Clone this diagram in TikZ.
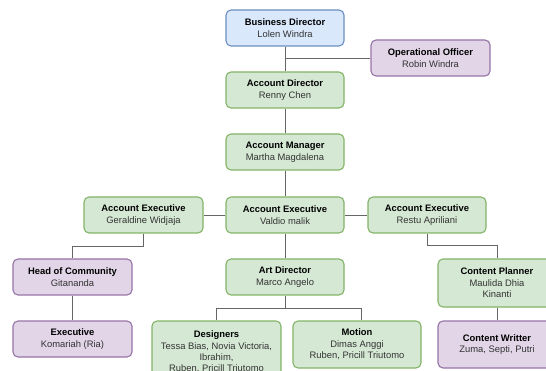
\documentclass[tikz,border=0pt]{standalone}
\usepackage{fontspec}
\setmainfont{Liberation Sans}
\definecolor{bfill}{HTML}{DAE8FC}
\definecolor{bline}{HTML}{6C8EBF}
\definecolor{gfill}{HTML}{D5E8D4}
\definecolor{gline}{HTML}{82B366}
\definecolor{pfill}{HTML}{E1D5E7}
\definecolor{pline}{HTML}{9673A6}
\definecolor{edge}{HTML}{666666}
\definecolor{nametext}{HTML}{333333}
\newcommand{\ttl}[1]{{\color{black}\bfseries #1}\\[0.8pt]}
\tikzset{
  box/.style={draw, line width=1.1pt, rounded corners=5pt, inner sep=0pt,
    align=center, text=nametext, font=\fontsize{9.4}{11}\selectfont,
    minimum width=118pt, minimum height=36pt},
  bbox/.style={box, fill=bfill, draw=bline},
  gbox/.style={box, fill=gfill, draw=gline},
  pbox/.style={box, fill=pfill, draw=pline},
  conn/.style={draw=edge, line width=0.9pt}
}
\begin{document}
\begin{tikzpicture}[x=1pt,y=-1pt]
\useasboundingbox (0,0) rectangle (546,371);
\node[bbox] (bd) at (285,28) {\ttl{Business Director}Lolen Windra};
\node[pbox, minimum width=119pt] (oo) at (430.5,58) {\ttl{Operational Officer}Robin Windra};
\node[gbox] (ad) at (285,90) {\ttl{Account Director}Renny Chen};
\node[gbox] (am) at (285,152) {\ttl{Account Manager}Martha Magdalena};
\node[gbox, minimum width=119pt] (ael) at (143.5,215) {\ttl{Account Executive}Geraldine Widjaja};
\node[gbox] (aem) at (285,215) {\ttl{Account Executive}Valdio malik};
\node[gbox] (aer) at (427,215) {\ttl{Account Executive}Restu Apriliani};
\node[pbox, minimum width=119pt] (hoc) at (72.5,277) {\ttl{Head of Community}Gitananda};
\node[pbox, minimum width=119pt] (ex) at (72.5,339) {\ttl{Executive}Komariah (Ria)};
\node[gbox] (art) at (285,277) {\ttl{Art Director}Marco Angelo};
\node[gbox, minimum width=129pt, minimum height=62pt] (des) at (216.5,352) {\ttl{Designers}Tessa Bias, Novia Victoria,\\Ibrahim,\\Ruben, Pricill Triutomo};
\node[gbox, minimum width=128pt, minimum height=47pt] (mo) at (357,344.5) {\ttl{Motion}Dimas Anggi\\Ruben, Pricill Triutomo};
\node[gbox, minimum height=48pt] (cp) at (497,283) {\ttl{Content Planner}Maulida Dhia\\Kinanti};
\node[pbox, minimum height=47pt] (cw) at (497,344.5) {\ttl{Content Writter}Zuma, Septi, Putri};
% connectors
\draw[conn] (bd.south) -- (ad.north);
\draw[conn] (oo.west) -- (oo.west -| bd.south);
\draw[conn] (ad.south) -- (am.north);
\draw[conn] (am.south) -- (aem.north);
\draw[conn] (aem.west) -- (ael.east);
\draw[conn] (aem.east) -- (aer.west);
\draw[conn] (ael.south) -- ++(0,12.5) -| (hoc.north);
\draw[conn] (hoc.south) -- (ex.north);
\draw[conn] (aem.south) -- (art.north);
\draw[conn] (aer.south) -- ++(0,12) -| (cp.north);
\draw[conn] (cp.south) -- (cw.north);
\draw[conn] (art.south) -- ++(0,12.5) -| (des.north);
\draw[conn] (art.south) -- ++(0,12.5) -| ([xshift=4pt]mo.north);
\end{tikzpicture}
\end{document}
